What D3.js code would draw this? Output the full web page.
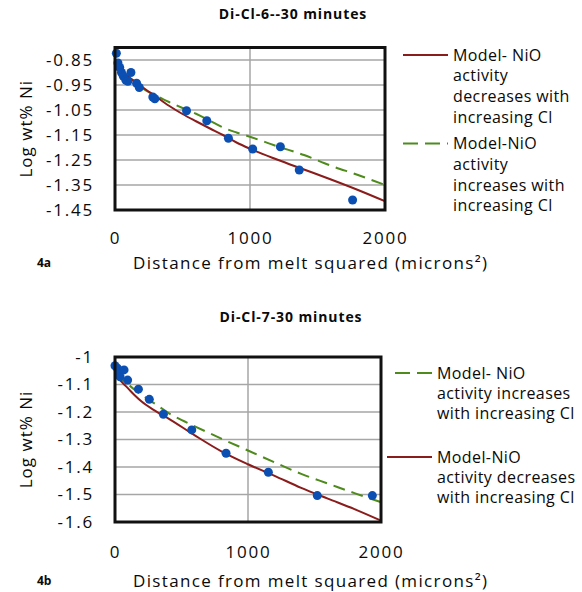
<!DOCTYPE html>
<html>
<head>
<meta charset="utf-8">
<script src="https://cdn.jsdelivr.net/npm/d3@7"></script>
<style>
  body { margin: 0; background: #fff; }
  text { font-family: "Open Sans", "DejaVu Sans", sans-serif; fill: #0a0a0a; }
</style>
</head>
<body>
<svg id="fig" width="582" height="592"></svg>
<script>
// ---- data ----
// 4a : Di-Cl-6--30 minutes
var dist6 = [10, 22, 35, 48, 62, 80, 95, 118, 160, 180, 280, 295, 530, 680, 840, 1020, 1225, 1365, 1760];
var logNi6 = [-0.823, -0.862, -0.88, -0.90, -0.915, -0.93, -0.935, -0.90, -0.943, -0.96, -0.998, -1.005, -1.053, -1.093, -1.163, -1.206, -1.197, -1.29, -1.41];
var modelX6 = [0, 25, 50, 100, 150, 200, 300, 400, 500, 600, 700, 800, 900, 1000, 1200, 1400, 1600, 1800, 2000];
var modelDec6 = [-0.86, -0.88, -0.895, -0.918, -0.937, -0.957, -0.995, -1.033, -1.066, -1.095, -1.123, -1.15, -1.18, -1.205, -1.248, -1.288, -1.328, -1.37, -1.415];
var modelInc6 = [-0.86, -0.877, -0.89, -0.915, -0.94, -0.962, -0.992, -1.018, -1.042, -1.065, -1.092, -1.12, -1.14, -1.157, -1.195, -1.23, -1.273, -1.31, -1.35];
var yTicks6 = [-0.85, -0.95, -1.05, -1.15, -1.25, -1.35, -1.45];

// 4b : Di-Cl-7-30 minutes
var dist7 = [0, 18, 32, 38, 68, 95, 176, 258, 364, 577, 835, 1153, 1521, 1935];
var logNi7 = [-1.032, -1.041, -1.053, -1.072, -1.047, -1.084, -1.117, -1.154, -1.208, -1.265, -1.35, -1.419, -1.504, -1.504];
var modelX7 = [0, 25, 50, 100, 150, 200, 300, 400, 600, 800, 1000, 1200, 1400, 1600, 1800, 2000];
var modelDec7 = [-1.06, -1.075, -1.09, -1.115, -1.14, -1.162, -1.195, -1.223, -1.285, -1.343, -1.39, -1.432, -1.476, -1.515, -1.553, -1.595];
var modelInc7 = [-1.06, -1.07, -1.08, -1.1, -1.12, -1.138, -1.17, -1.203, -1.252, -1.297, -1.34, -1.383, -1.425, -1.46, -1.495, -1.528];
var yTicks7 = [-1, -1.1, -1.2, -1.3, -1.4, -1.5, -1.6];

var xTicks = [0, 1000, 2000];

var RED = "#8b1c1c", GREEN = "#4f8a1c", BLUE = "#0c4fb3";

var svg = d3.select("#fig");

function drawChart(cfg) {
  var x = d3.scaleLinear().domain([0, 2000]).range([0, cfg.width]);
  var y = d3.scaleLinear().domain(cfg.yDomain).range([cfg.height, 0]);

  var g = svg.append("g")
      .attr("transform", "translate(" + cfg.left + "," + cfg.top + ")");

  // title
  svg.append("text")
      .attr("x", cfg.titleX).attr("y", cfg.titleY)
      .attr("text-anchor", "middle")
      .style("font-weight", "bold").style("font-size", "14px")
      .style("letter-spacing", "0.9px")
      .text(cfg.title);

  // gridlines
  g.append("g").selectAll("line").data(cfg.yTicks).enter().append("line")
      .attr("x1", 0).attr("x2", cfg.width)
      .attr("y1", function(d) { return y(d); }).attr("y2", function(d) { return y(d); })
      .attr("stroke", "#a6a6a6").attr("stroke-width", 1.5);
  g.append("line")
      .attr("x1", x(1000)).attr("x2", x(1000))
      .attr("y1", 0).attr("y2", cfg.height)
      .attr("stroke", "#a6a6a6").attr("stroke-width", 1.5);

  // axes (labels only)
  var yAxis = d3.axisLeft(y).tickValues(cfg.yTicks).tickSize(0).tickPadding(21)
      .tickFormat(function(d) { return String(d); });
  var xAxis = d3.axisBottom(x).tickValues(xTicks).tickSize(0).tickPadding(cfg.xPad)
      .tickFormat(d3.format("d"));

  var ya = g.append("g").attr("class", "y axis").call(yAxis);
  var xa = g.append("g").attr("class", "x axis")
      .attr("transform", "translate(0," + cfg.height + ")").call(xAxis);
  [ya, xa].forEach(function(a) {
    a.select(".domain").remove();
    a.selectAll("text")
      .style("font-size", "17px").style("letter-spacing", "1.8px")
      .attr("fill", "#0a0a0a");
  });

  // model lines
  var line = d3.line()
      .x(function(d) { return x(d[0]); })
      .y(function(d) { return y(d[1]); })
      .curve(d3.curveMonotoneX);

  g.append("path")
      .datum(d3.zip(cfg.modelX, cfg.inc))
      .attr("fill", "none").attr("stroke", GREEN).attr("stroke-width", 2)
      .attr("stroke-dasharray", "12,7")
      .attr("d", line);
  g.append("path")
      .datum(d3.zip(cfg.modelX, cfg.dec))
      .attr("fill", "none").attr("stroke", RED).attr("stroke-width", 2)
      .attr("d", line);

  // data points
  g.selectAll("circle.pt")
      .data(d3.zip(cfg.dist, cfg.logNi)).enter()
      .append("circle").attr("class", "pt")
      .attr("cx", function(d) { return x(d[0]); })
      .attr("cy", function(d) { return y(d[1]); })
      .attr("r", 4.5)
      .attr("fill", BLUE);

  // plot frame
  g.append("rect")
      .attr("x", 0).attr("y", 0)
      .attr("width", cfg.width).attr("height", cfg.height)
      .attr("fill", "none").attr("stroke", "#111").attr("stroke-width", 3);

  // axis titles
  svg.append("text")
      .attr("transform", "translate(" + cfg.yLabX + "," + (cfg.top + cfg.height / 2) + ") rotate(-90)")
      .attr("text-anchor", "middle").attr("dy", "0.35em")
      .style("font-size", "17px").style("letter-spacing", "1px")
      .text("Log wt% Ni");

  svg.append("text")
      .attr("x", 133).attr("y", cfg.xLabY)
      .attr("dy", "0.35em")
      .style("font-size", "17px").style("letter-spacing", "1.35px")
      .text("Distance from melt squared (microns²)");

  svg.append("text")
      .attr("x", 37).attr("y", cfg.xLabY).attr("dy", "0.35em")
      .style("font-size", "12px").style("font-weight", "bold")
      .text(cfg.tag);

  // legend
  cfg.legend.forEach(function(item) {
    svg.append("line")
        .attr("x1", item.x1).attr("x2", item.x2)
        .attr("y1", item.y).attr("y2", item.y)
        .attr("stroke", item.color).attr("stroke-width", 2)
        .attr("stroke-dasharray", item.dashed ? "15,7" : null);
    var t = svg.append("text")
        .attr("x", item.tx).attr("y", item.y)
        .style("font-size", "16px").style("letter-spacing", "0.4px");
    item.lines.forEach(function(s, i) {
      t.append("tspan").attr("x", item.tx).attr("y", item.y + i * item.lh)
          .attr("dy", "0.35em").text(s);
    });
  });
}

drawChart({
  title: "Di-Cl-6--30 minutes", titleX: 293, titleY: 19,
  left: 115, top: 47.5, width: 270, height: 162.5,
  yDomain: [-1.45, -0.8], yTicks: yTicks6, xPad: 22,
  dist: dist6, logNi: logNi6, modelX: modelX6, dec: modelDec6, inc: modelInc6,
  yLabX: 26, xLabY: 263, tag: "4a",
  legend: [
    { color: RED, dashed: false, x1: 403, x2: 448, tx: 453, y: 55, lh: 20.7,
      lines: ["Model- NiO", "activity", "decreases with", "increasing Cl"] },
    { color: GREEN, dashed: true, x1: 403, x2: 448, tx: 453, y: 143.5, lh: 20.7,
      lines: ["Model-NiO", "activity", "increases with", "increasing Cl"] }
  ]
});

drawChart({
  title: "Di-Cl-7-30 minutes", titleX: 291, titleY: 322,
  left: 115, top: 357, width: 266, height: 165,
  yDomain: [-1.6, -1], yTicks: yTicks7, xPad: 24,
  dist: dist7, logNi: logNi7, modelX: modelX7, dec: modelDec7, inc: modelInc7,
  yLabX: 26, xLabY: 581, tag: "4b",
  legend: [
    { color: GREEN, dashed: true, x1: 395, x2: 432, tx: 437, y: 373, lh: 20.3,
      lines: ["Model- NiO", "activity increases", "with increasing Cl"] },
    { color: RED, dashed: false, x1: 387, x2: 432, tx: 437, y: 457, lh: 20.3,
      lines: ["Model-NiO", "activity decreases", "with increasing Cl"] }
  ]
});
</script>
</body>
</html>
